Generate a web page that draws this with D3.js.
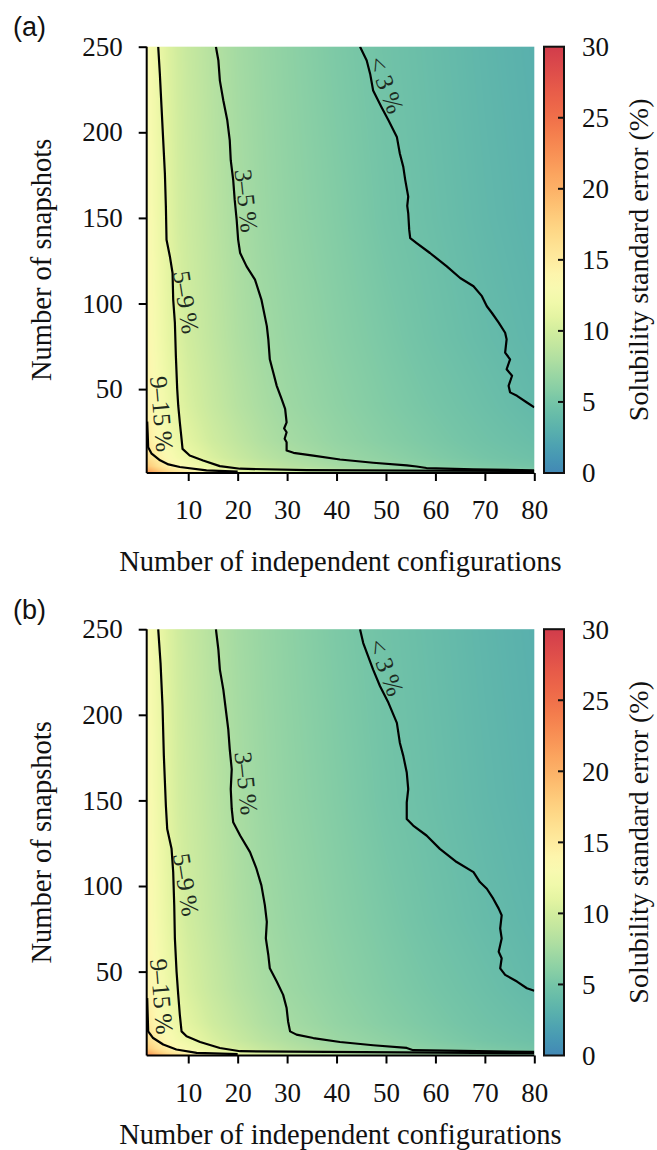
<!DOCTYPE html>
<html>
<head>
<meta charset="utf-8">
<script src="https://cdn.jsdelivr.net/npm/d3@7"></script>
<style>
  body { margin: 0; background: #fff; }
  svg text { font-family: "Liberation Serif", "Times New Roman", serif; fill: #111; }
</style>
</head>
<body>
<svg id="fig" width="657" height="1150"></svg>
<script>
// ---- data ----
// heat map: solubility standard error (%) sampled on a coarse grid
var configs = [2, 4, 6, 8, 10, 15, 20, 25, 30, 40, 50, 60, 70, 80];
var snapshots = [1, 2, 5, 10, 20, 40, 80, 150, 250];
var errorGrid = [
  [24.0, 21.0, 19.0, 17.5, 16.3, 14.3, 12.8, 11.7, 10.8, 9.5, 8.5, 7.7, 7.0, 6.4],   // 1
  [21.0, 18.5, 16.5, 15.2, 14.2, 12.5, 11.2, 10.2, 9.5, 8.4, 7.5, 6.8, 6.2, 5.6],    // 2
  [18.0, 16.0, 14.5, 13.4, 12.6, 11.2, 10.1, 9.2, 8.5, 7.5, 6.7, 6.0, 5.4, 4.9],     // 5
  [16.2, 14.6, 13.3, 12.3, 11.7, 10.4, 9.4, 8.6, 8.0, 7.0, 6.3, 5.6, 5.0, 4.5],      // 10
  [15.0, 13.5, 12.4, 11.6, 11.0, 9.8, 8.9, 8.1, 7.5, 6.6, 5.9, 5.3, 4.7, 4.2],       // 20
  [14.2, 12.8, 11.8, 11.0, 10.4, 9.3, 8.4, 7.7, 7.1, 6.3, 5.6, 5.0, 4.4, 3.8],       // 40
  [13.6, 12.3, 11.3, 10.5, 9.9, 8.9, 8.0, 7.3, 6.8, 6.0, 5.3, 4.6, 4.0, 3.5],        // 80
  [13.2, 11.9, 10.9, 10.1, 9.6, 8.6, 7.7, 7.0, 6.5, 5.7, 4.9, 4.3, 3.7, 3.2],        // 150
  [12.9, 11.6, 10.6, 9.9, 9.3, 8.3, 7.4, 6.8, 6.3, 5.4, 4.7, 4.1, 3.5, 3.0]          // 250
];

// contour lines [configurations, snapshots], panel (a)
var contour3A = [[44.75,250],[46.1,241.9],[46.8,234.1],[47.4,224.4],[49.1,214.7],[50.5,207],[52.2,197.3],
  [52.8,187.6],[53.5,179.8],[53.9,172.1],[54.5,162.4],[54.3,157],[54.5,152.7],[54.7,143],[54.9,138.2],
  [56.2,135.3],[58.9,129.5],[62.3,121.7],[65,114.9],[67.7,110.1],[69.4,104.3],[70.4,98.4],[71.4,94.6],
  [72.8,88.8],[74.1,82.9],[74.4,79.1],[74.1,71.3],[75.1,67.4],[74.4,61.6],[75.5,57.8],[74.8,51.9],
  [75.1,48.1],[76.5,46.1],[78.5,42.2],[80,39.3]];
var contour5A = [[15.6,250],[16.1,241.9],[16.4,230.2],[17.1,218.6],[17.9,207],[18.4,195.3],[18.6,183.7],
  [19.1,172.1],[19.4,160.5],[19.8,148.8],[20.1,137.2],[20.5,129.5],[21.8,121.7],[23.5,114],[24.8,102.3],
  [25.9,86.8],[26.2,79.1],[26.5,67.4],[27.2,59.7],[27.9,51.9],[28.9,44.2],[29.6,38.4],[29.9,30.6],
  [29.4,27],[29.9,24.8],[29.5,21],[29.9,19],[29.9,14.1],[31.3,12.8],[35.3,11.2],[40.7,8.9],[47.4,7],
  [54.2,5.4],[56.2,4.8],[58.2,3.9],[67.7,3.1],[80,2.6]];
var contour9A = [[3.93,250],[4.26,234.1],[4.6,214.7],[4.94,195.3],[5.28,175.9],[5.48,156.6],[5.61,137.2],
  [6.29,127.5],[6.83,117.8],[6.96,102.3],[7.3,88.8],[7.5,69.4],[7.77,50],[7.98,40.3],[8.3,30.6],
  [8.65,20.9],[8.85,15.1],[10.3,11.2],[13,8.3],[16.4,5],[20.5,3.5],[34,2.7],[80,2.1]];
var contour15A = [[1.7,31],[1.8,24],[1.9,16.1],[2.6,12.3],[4.3,8.4],[6,6],[8.3,4.5],[13.7,2.5],[20,1.8]];

// panel (b)
var contour3B = [[44.75,250],[45.4,241.9],[46.4,234.1],[47.4,226.4],[48.8,216.7],[50.5,207],[52.2,195.3],
  [52.8,183.7],[53.5,176],[54.2,166.3],[54.5,156.6],[54.2,148.8],[54.2,139.1],[55.5,135.3],[58.2,129.5],
  [60.9,121.7],[64.3,114],[67.7,108.1],[69,102.3],[70.4,98.4],[71.7,92.6],[72.8,86.8],[73.4,82.9],
  [73.1,75.2],[73.4,69.4],[72.8,61.6],[73.4,57.8],[73.1,51.9],[74.1,48.1],[76.5,44.2],[78.5,40.3],[80,38.8]];
var contour5B = [[15.6,250],[16.1,238],[16.4,226.4],[17.1,214.7],[17.6,203.1],[18.1,191.5],[18.4,179.8],
  [18.8,168.2],[18.6,156.6],[18.8,145],[19.1,137.2],[20.5,129.5],[22.5,119.8],[23.8,110.1],[24.8,100.4],
  [25.5,88.8],[25.9,79.1],[25.7,69.4],[26.2,59.7],[26.5,51.9],[27.9,44.2],[29.2,36.4],[29.9,28.7],
  [30.2,20.9],[30.6,15.1],[31.9,13.2],[35.3,11.2],[40.7,8.9],[47.4,7],[54.2,5.4],[55.5,4.1],[80,3.1]];
var contour9B = [[3.93,250],[4.4,230.2],[4.8,205],[5.07,176],[5.48,146.9],[5.75,133.3],[6.63,121.7],
  [6.96,108.1],[7.17,88.8],[7.3,69.4],[7.64,50],[7.98,36.4],[8.3,24.8],[8.65,15.1],[9.66,12.2],
  [12.4,8.9],[16.4,5.4],[20.5,3.5],[80,2.3]];
var contour15B = [[1.7,34.5],[1.8,25],[1.9,15.1],[2.9,11.2],[4.94,7.4],[7.6,4.5],[11.7,2.5],[20,1.8]];

var contourLabels = ["< 3\u2009%", "3\u20135\u2009%", "5\u20139\u2009%", "9\u201315\u2009%"];

var xTicks = [10, 20, 30, 40, 50, 60, 70, 80];
var yTicks = [50, 100, 150, 200, 250];
var cTicks = [0, 5, 10, 15, 20, 25, 30];

// ---- layout ----
var svg = d3.select("#fig");
var pLeft = 146.7, pRight = 534.3, pTop = 46.7, pBottom = 473;
var panelShift = 582.5;
var serif = "'Liberation Serif', 'Times New Roman', serif";

var x = d3.scaleLinear().domain([1.6, 80]).range([pLeft, pRight]);
var y = d3.scaleLinear().domain([1, 250]).range([pBottom, pTop]);

// Spectral_r, trimmed, as in the colorbar
var tScale = d3.scaleLinear().domain([0, 5, 10, 15, 20, 25, 30]).range([0.9, 0.78, 0.63, 0.44, 0.31, 0.2, 0.1]);
function colorOf(v) { return d3.interpolateSpectral(tScale(Math.max(0, Math.min(30, v)))); }

// one linear scale per grid row, then one across rows
var rowScales = errorGrid.map(function (row) {
  return d3.scaleLinear().domain(configs).range(row).clamp(true);
});

function heatImage() {
  var w = Math.round(pRight - pLeft), h = Math.round(pBottom - pTop);
  var canvas = document.createElement("canvas");
  canvas.width = w; canvas.height = h;
  var ctx = canvas.getContext("2d");
  var img = ctx.createImageData(w, h);
  for (var i = 0; i < w; i++) {
    var xv = x.invert(pLeft + (i + 0.5) * (pRight - pLeft) / w);
    var col = rowScales.map(function (s) { return s(xv); });
    var colScale = d3.scaleLinear().domain(snapshots).range(col).clamp(true);
    for (var j = 0; j < h; j++) {
      var yv = y.invert(pTop + (j + 0.5) * (pBottom - pTop) / h);
      var c = d3.rgb(colorOf(colScale(yv)));
      var k = (j * w + i) * 4;
      img.data[k] = c.r; img.data[k + 1] = c.g; img.data[k + 2] = c.b; img.data[k + 3] = 255;
    }
  }
  ctx.putImageData(img, 0, 0);
  return canvas.toDataURL();
}
var heatUrl = heatImage();

var line = d3.line().x(function (d) { return x(d[0]); }).y(function (d) { return y(d[1]); });

svg.append("defs").append("clipPath").attr("id", "plotclip")
  .append("rect").attr("x", pLeft).attr("y", pTop).attr("width", pRight - pLeft).attr("height", pBottom - pTop);

function drawPanel(shift, letter, lines, xlabelY) {
  var g = svg.append("g").attr("transform", "translate(0," + shift + ")");

  g.append("image")
    .attr("href", heatUrl)
    .attr("x", pLeft).attr("y", pTop)
    .attr("width", pRight - pLeft).attr("height", pBottom - pTop)
    .attr("preserveAspectRatio", "none");

  var cg = g.append("g").attr("clip-path", "url(#plotclip)");
  lines.forEach(function (pts) {
    cg.append("path").attr("d", line(pts))
      .attr("fill", "none").attr("stroke", "#000").attr("stroke-width", 2.2)
      .attr("stroke-linejoin", "round");
  });

  // contour labels
  var labelPos = [[50.0, 227.6, 69], [21.7, 160, 84], [9.5, 100.7, 81], [4.6, 35.5, 85]];
  labelPos.forEach(function (p, i) {
    g.append("text")
      .attr("transform", "translate(" + x(p[0]) + "," + y(p[1]) + ") rotate(" + p[2] + ")")
      .attr("text-anchor", "middle").attr("dy", "0.33em")
      .style("font-family", serif).style("font-size", "25px").style("fill", "#1d2b1f")
      .text(contourLabels[i]);
  });

  // axes
  var xAxis = d3.axisBottom(x).tickValues(xTicks).tickSize(8).tickPadding(19);
  var gx = g.append("g").attr("transform", "translate(0," + pBottom + ")").call(xAxis);
  var yAxis = d3.axisLeft(y).tickValues(yTicks).tickSize(8).tickPadding(16);
  var gy = g.append("g").attr("transform", "translate(" + pLeft + ",0)").call(yAxis);
  [gx, gy].forEach(function (a) {
    a.select(".domain").attr("stroke", "#000").attr("stroke-width", 2);
    a.selectAll(".tick line").attr("stroke", "#000").attr("stroke-width", 2);
    a.selectAll(".tick text").style("font-size", "27px")
      .style("font-family", serif).attr("fill", "#111");
  });
  gx.select(".domain").attr("d", "M" + pLeft + ",0H" + pRight);
  gy.select(".domain").attr("d", "M0," + pTop + "V" + pBottom);

  g.append("text")
    .attr("x", (pLeft + pRight) / 2).attr("y", xlabelY)
    .attr("text-anchor", "middle").style("font-family", serif).style("font-size", "28.5px")
    .text("Number of independent configurations");

  g.append("text")
    .attr("transform", "translate(51," + (pTop + pBottom) / 2 + ") rotate(-90)")
    .attr("text-anchor", "middle").style("font-family", serif).style("font-size", "28.5px")
    .text("Number of snapshots");

  g.append("text")
    .attr("x", 13).attr("y", 36)
    .style("font-family", "'Liberation Sans', Arial, sans-serif").style("font-size", "27px")
    .text("(" + letter + ")");

  // colorbar
  var cx0 = 544, cw = 20;
  var c = d3.scaleLinear().domain([0, 30]).range([pBottom, pTop]);
  var gradId = "grad" + letter;
  var grad = g.append("defs").append("linearGradient").attr("id", gradId)
    .attr("x1", 0).attr("y1", 1).attr("x2", 0).attr("y2", 0);
  d3.range(0, 30.01, 1).forEach(function (v) {
    grad.append("stop").attr("offset", v / 30).attr("stop-color", colorOf(v));
  });
  g.append("rect").attr("x", cx0).attr("y", pTop).attr("width", cw).attr("height", pBottom - pTop)
    .attr("fill", "url(#" + gradId + ")").attr("stroke", "#111").attr("stroke-width", 2);
  g.selectAll(".ctick").data(cTicks.slice(1, -1)).enter().append("line")
    .attr("x1", cx0 + cw - 6).attr("x2", cx0 + cw)
    .attr("y1", function (d) { return c(d); }).attr("y2", function (d) { return c(d); })
    .attr("stroke", "#111").attr("stroke-width", 2);
  g.selectAll(".clab").data(cTicks).enter().append("text")
    .attr("x", 582).attr("y", function (d) { return c(d); }).attr("dy", "0.35em")
    .style("font-family", serif).style("font-size", "27px").text(function (d) { return d; });
  g.append("text")
    .attr("transform", "translate(648," + (pTop + pBottom) / 2 + ") rotate(-90)")
    .attr("text-anchor", "middle").style("font-family", serif).style("font-size", "28px")
    .text("Solubility standard error (%)");
}

drawPanel(0, "a", [contour15A, contour9A, contour5A, contour3A], 571);
drawPanel(panelShift, "b", [contour15B, contour9B, contour5B, contour3B], 561);
</script>
</body>
</html>
